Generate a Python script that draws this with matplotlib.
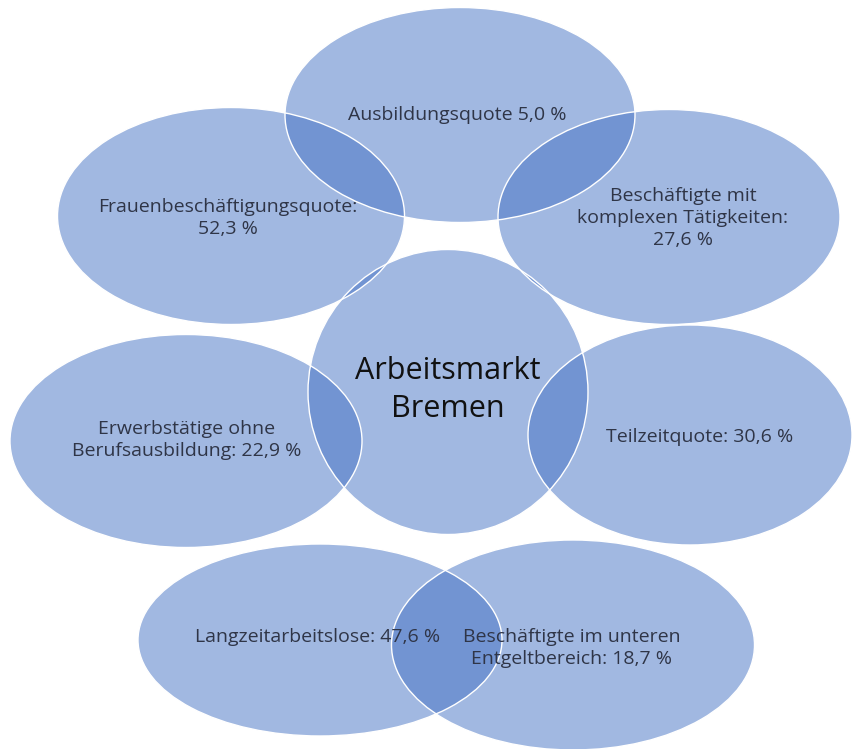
import matplotlib
matplotlib.use("Agg")
import matplotlib.pyplot as plt
from matplotlib.patches import Ellipse

# --- data ---
center_title = "Arbeitsmarkt\nBremen"
indicators = [
    "Ausbildungsquote",
    "Frauenbeschäftigungsquote:",
    "Beschäftigte mit\nkomplexen Tätigkeiten:",
    "Erwerbstätige ohne\nBerufsausbildung:",
    "Teilzeitquote:",
    "Langzeitarbeitslose:",
    "Beschäftigte im unteren\nEntgeltbereich:",
]
values = [5.0, 52.3, 27.6, 22.9, 30.6, 47.6, 18.7]
sep = [" ", "\n", "\n", " ", " ", " ", " "]

# --- layout (pixel coordinates: cx, cy, width, height) ---
layout = [
    (460, 115, 350, 215),
    (231, 216, 347, 217),
    (669, 217, 342, 215),
    (186, 441, 352, 213),
    (690, 435, 324, 220),
    (320, 640, 364, 192),
    (573, 645, 363, 210),
]
label_pos = [
    (457, 115), (228, 218), (683, 218), (187, 440),
    (700, 437), (318, 637), (572, 648),
]
center_geom = (448, 392, 280, 285)

W, H = 857, 749
fig = plt.figure(figsize=(W / 100, H / 100), dpi=100)
ax = fig.add_axes([0, 0, 1, 1])
ax.set_xlim(0, W)
ax.set_ylim(H, 0)
ax.set_aspect("equal")
ax.axis("off")

fill = "#4472C4"
alpha = 0.5


def add_ellipse(cx, cy, w, h):
    ax.add_patch(Ellipse((cx, cy), w, h, facecolor=fill, alpha=alpha,
                         edgecolor="none", zorder=1))
    ax.add_patch(Ellipse((cx, cy), w, h, facecolor="none",
                         edgecolor="white", lw=1.0, zorder=3))


for g in layout[:5]:
    add_ellipse(*g)
add_ellipse(*center_geom)
for g in layout[5:]:
    add_ellipse(*g)

txt_color = "#2f3547"
for name, v, s, (x, y) in zip(indicators, values, sep, label_pos):
    label = f"{name}{s}{v:.1f} %".replace(".", ",")
    ax.text(x, y, label, ha="center", va="center", fontsize=14,
            family="Open Sans", color=txt_color, linespacing=1.3, zorder=5)

ax.text(448, 390, center_title, ha="center", va="center", fontsize=22,
        family="Open Sans", color="#111111", linespacing=1.35, zorder=5)

fig.savefig("out.png", dpi=100, facecolor="white")
